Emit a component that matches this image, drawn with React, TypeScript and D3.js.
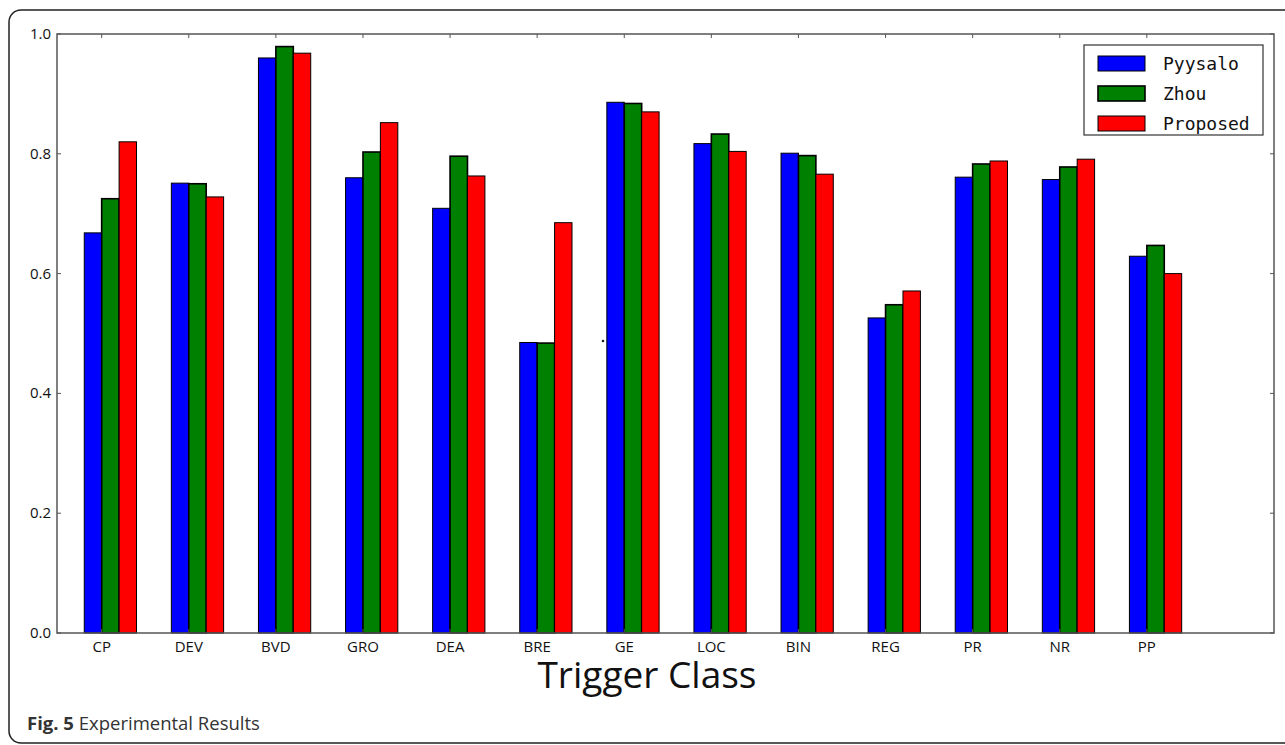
import React from "react";
import * as d3 from "d3";

const categories = ["CP", "DEV", "BVD", "GRO", "DEA", "BRE", "GE", "LOC", "BIN", "REG", "PR", "NR", "PP"];
const pyysalo = [0.668, 0.751, 0.96, 0.76, 0.709, 0.485, 0.886, 0.817, 0.801, 0.526, 0.761, 0.757, 0.629];
const zhou = [0.725, 0.75, 0.979, 0.803, 0.796, 0.484, 0.884, 0.833, 0.797, 0.548, 0.783, 0.778, 0.647];
const proposed = [0.82, 0.728, 0.968, 0.852, 0.763, 0.685, 0.87, 0.804, 0.766, 0.571, 0.788, 0.791, 0.6];
const seriesNames = ["Pyysalo", "Zhou", "Proposed"];
const seriesColors = ["#0000ff", "#008000", "#ff0000"];
const yTicks = [0, 0.2, 0.4, 0.6, 0.8, 1.0];

const W = 1285;
const H = 745;
const plot = { left: 57, right: 1274, top: 34, bottom: 633 };
const barW = 0.2;

export default function App() {
  const x = d3.scaleLinear().domain([-0.313, 13.66]).range([plot.left, plot.right]);
  const y = d3.scaleLinear().domain([0, 1]).range([plot.bottom, plot.top]);
  const series = [pyysalo, zhou, proposed];
  const fmt = d3.format(".1f");
  const bw = x(barW) - x(0);
  const font = "'Open Sans', 'DejaVu Sans', sans-serif";

  return (
    <svg width={W} height={H} style={{ position: "absolute", left: 0, top: 0, background: "#fff" }}>
      <rect x={9} y={10} width={1300} height={733} rx={12} ry={12} fill="#fff" stroke="#222" strokeWidth={1.5} />
      {series.map((vals, s) =>
        vals.map((v, i) => (
          <rect
            key={`${s}-${i}`}
            x={x(i + s * barW)}
            y={y(v)}
            width={bw}
            height={y(0) - y(v)}
            fill={seriesColors[s]}
            stroke="#000"
            strokeWidth={s === 1 ? 1.6 : 1}
          />
        ))
      )}
      <rect x={plot.left} y={plot.top} width={plot.right - plot.left} height={plot.bottom - plot.top} fill="none" stroke="#555" strokeWidth={1.5} />
      {yTicks.map((t) => (
        <g key={t}>
          <line x1={plot.left} x2={plot.left + 4} y1={y(t)} y2={y(t)} stroke="#555" />
          <line x1={plot.right} x2={plot.right - 4} y1={y(t)} y2={y(t)} stroke="#555" />
          <text x={51} y={y(t) + 5} textAnchor="end" fontSize={15} fontFamily={font} fill="#111">
            {fmt(t)}
          </text>
        </g>
      ))}
      {categories.map((c, i) => (
        <g key={c}>
          <line x1={x(i + barW)} x2={x(i + barW)} y1={plot.top} y2={plot.top + 4} stroke="#555" />
          <line x1={x(i + barW)} x2={x(i + barW)} y1={plot.bottom} y2={plot.bottom - 4} stroke="#555" />
          <text x={x(i + barW)} y={652} textAnchor="middle" fontSize={15} fontFamily={font} fill="#111">
            {c}
          </text>
        </g>
      ))}
      <text x={647} y={688} textAnchor="middle" fontSize={37} fontFamily={font} fill="#111">
        Trigger Class
      </text>
      <rect x={1084} y={45} width={179} height={90} fill="#fff" stroke="#333" strokeWidth={1.2} />
      {seriesNames.map((n, k) => (
        <g key={n}>
          <rect x={1098} y={56 + k * 30} width={47} height={15} fill={seriesColors[k]} stroke="#000" strokeWidth={k === 1 ? 1.6 : 1} />
          <text x={1163} y={70 + k * 30} fontSize={18} fontFamily="'DejaVu Sans Mono', monospace" fill="#111">
            {n}
          </text>
        </g>
      ))}
      <circle cx={603} cy={341} r={1.3} fill="#222" />
      <text x={27} y={730} fontSize={18.5} fontFamily={font} fill="#333">
        <tspan fontWeight="bold">Fig. 5</tspan>
        <tspan> Experimental Results</tspan>
      </text>
    </svg>
  );
}
